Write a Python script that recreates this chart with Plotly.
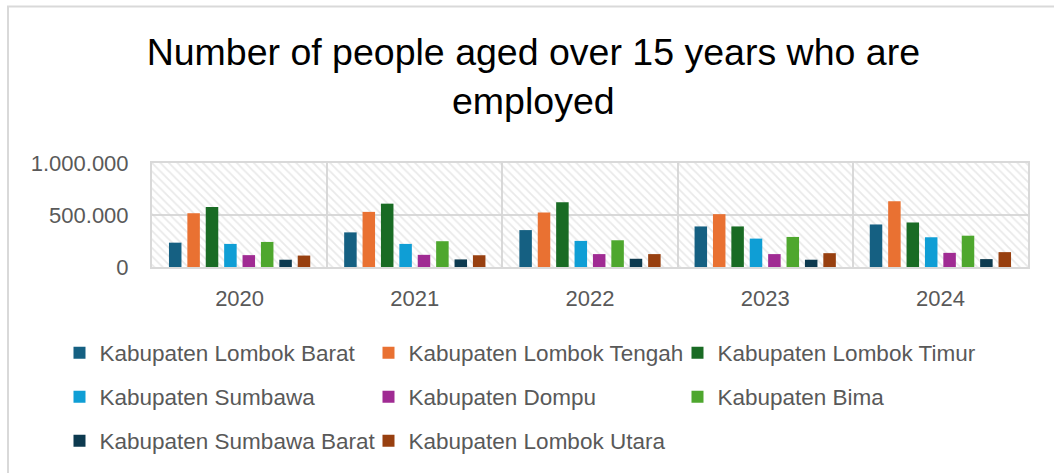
import plotly.graph_objects as go

years = ["2020", "2021", "2022", "2023", "2024"]
series_names = [
    "Kabupaten Lombok Barat", "Kabupaten Lombok Tengah", "Kabupaten Lombok Timur",
    "Kabupaten Sumbawa", "Kabupaten Dompu", "Kabupaten Bima",
    "Kabupaten Sumbawa Barat", "Kabupaten Lombok Utara",
]
lombok_barat = [234000, 333000, 355000, 390000, 409000]
lombok_tengah = [517000, 530000, 524000, 508000, 632000]
lombok_timur = [577000, 609000, 622000, 390000, 428000]
sumbawa = [222000, 222000, 251000, 273000, 286000]
dompu = [114000, 117000, 124000, 124000, 136000]
bima = [241000, 248000, 257000, 289000, 301000]
sumbawa_barat = [70000, 73000, 79000, 70000, 76000]
lombok_utara = [110000, 113000, 124000, 133000, 143000]
series_values = [lombok_barat, lombok_tengah, lombok_timur, sumbawa, dompu, bima,
                 sumbawa_barat, lombok_utara]
colors = ["#156082", "#E97132", "#196B24", "#0F9ED5", "#A02B93", "#4EA72E",
          "#0D3A4F", "#984010"]
y_max = 1000000
y_ticks = [0, 500000, 1000000]
y_ticktext = ["0", "500.000", "1.000.000"]

legend_rows = ["legend", "legend", "legend", "legend2", "legend2", "legend2", "legend3", "legend3"]

TXT = "#595959"
GRID = "#D9D9D9"
FONT = "Liberation Sans, Arial, sans-serif"

fig = go.Figure()

# hatched plot-area background (on base axes, under data)
fig.add_trace(go.Bar(
    x=years, y=[y_max] * len(years), width=1,
    marker=dict(color="rgba(0,0,0,0)", line=dict(width=0),
                pattern=dict(shape="\\", fgcolor="#D4D4D4", size=6, solidity=0.3,
                             fillmode="overlay")),
    showlegend=False, hoverinfo="skip", xaxis="x", yaxis="y",
))

for name, vals, col, lg in zip(series_names, series_values, colors, legend_rows):
    fig.add_trace(go.Bar(
        x=years, y=vals, name=name, marker=dict(color=col, line=dict(width=0)),
        xaxis="x2", yaxis="y2", legend=lg,
    ))

legend_common = dict(orientation="h", font=dict(family=FONT, size=22.5, color=TXT),
                     entrywidth=264, entrywidthmode="pixels", itemwidth=30,
                     x=-0.1056, xanchor="left", yanchor="middle", bgcolor="rgba(0,0,0,0)")

fig.update_layout(
    width=1054, height=473,
    paper_bgcolor="white", plot_bgcolor="white",
    margin=dict(l=152, r=26, t=163, b=205),
    title=dict(text="Number of people aged over 15 years who are<br>employed",
               x=0.506, xanchor="center", y=0.862, yanchor="top",
               font=dict(family=FONT, size=37.5, color="#000000")),
    barmode="group", bargap=0.16, bargroupgap=0.32,
    xaxis=dict(type="category", categoryorder="array", categoryarray=years,
               tickson="boundaries", showgrid=True, gridcolor=GRID, gridwidth=2,
               showline=True, linecolor=GRID, linewidth=2, mirror=True,
               ticks="", tickfont=dict(family=FONT, size=22, color=TXT),
               ticklabelstandoff=11, zeroline=False),
    yaxis=dict(range=[0, y_max], tickvals=y_ticks, ticktext=y_ticktext,
               showgrid=True, gridcolor=GRID, gridwidth=2,
               showline=True, linecolor=GRID, linewidth=2, mirror=True,
               ticks="", tickfont=dict(family=FONT, size=22, color=TXT),
               ticklabelstandoff=17, zeroline=False),
    xaxis2=dict(type="category", categoryorder="array", categoryarray=years,
                overlaying="x", showgrid=False, showticklabels=False, showline=False,
                zeroline=False),
    yaxis2=dict(range=[0, y_max], overlaying="y", showgrid=False, showticklabels=False,
                showline=False, zeroline=False),
    legend=dict(legend_common, y=-0.81),
    legend2=dict(legend_common, y=-1.229),
    legend3=dict(legend_common, y=-1.648),
    separators=",.",
    shapes=[dict(type="rect", xref="paper", yref="paper",
                 x0=-0.1644, x1=1.04, y0=-2.05, y1=2.505,
                 line=dict(color=GRID, width=2), fillcolor="rgba(0,0,0,0)", layer="below")],
)

fig.write_html("out.html", config={"displayModeBar": False},
               post_script="document.body.style.margin='0';")
